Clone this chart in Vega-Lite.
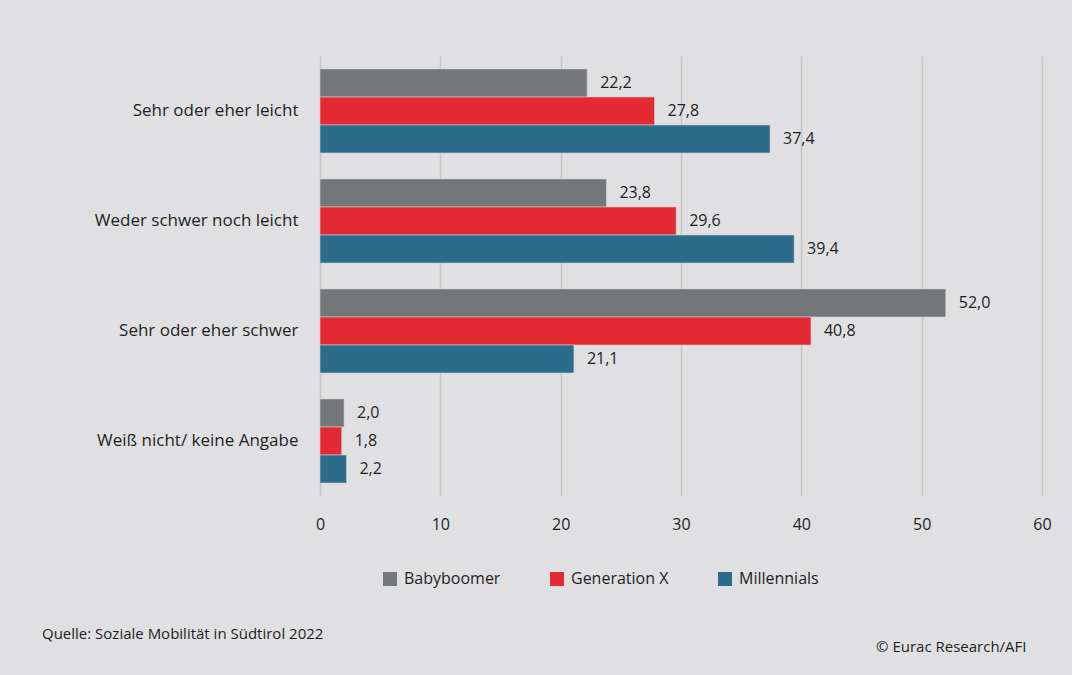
{
  "$schema": "https://vega.github.io/schema/vega-lite/v6.json",
  "width": 722,
  "height": 440,
  "autosize": {"type": "none"},
  "padding": {"left": 320, "top": 56, "right": 30, "bottom": 179},
  "background": "#e0e0e2",
  "config": {
    "locale": {"number": {"decimal": ",", "thousands": ".", "grouping": [3], "currency": ["", " €"]}},
    "view": {"stroke": null},
    "font": "Open Sans"
  },
  "data": {
    "values": [
      {"kategorie": "Sehr oder eher leicht", "generation": "Babyboomer", "wert": 22.2},
      {"kategorie": "Sehr oder eher leicht", "generation": "Generation X", "wert": 27.8},
      {"kategorie": "Sehr oder eher leicht", "generation": "Millennials", "wert": 37.4},
      {"kategorie": "Weder schwer noch leicht", "generation": "Babyboomer", "wert": 23.8},
      {"kategorie": "Weder schwer noch leicht", "generation": "Generation X", "wert": 29.6},
      {"kategorie": "Weder schwer noch leicht", "generation": "Millennials", "wert": 39.4},
      {"kategorie": "Sehr oder eher schwer", "generation": "Babyboomer", "wert": 52.0},
      {"kategorie": "Sehr oder eher schwer", "generation": "Generation X", "wert": 40.8},
      {"kategorie": "Sehr oder eher schwer", "generation": "Millennials", "wert": 21.1},
      {"kategorie": "Weiß nicht/ keine Angabe", "generation": "Babyboomer", "wert": 2.0},
      {"kategorie": "Weiß nicht/ keine Angabe", "generation": "Generation X", "wert": 1.8},
      {"kategorie": "Weiß nicht/ keine Angabe", "generation": "Millennials", "wert": 2.2}
    ]
  },
  "title": {
    "text": "Quelle: Soziale Mobilität in Südtirol 2022",
    "orient": "none",
    "anchor": "start",
    "frame": "group",
    "dx": -278,
    "dy": 571,
    "fontSize": 15,
    "fontWeight": "normal",
    "color": "#1e1e1e",
    "font": "Open Sans"
  },
  "encoding": {
    "y": {
      "field": "kategorie",
      "type": "nominal",
      "sort": ["Sehr oder eher leicht", "Weder schwer noch leicht", "Sehr oder eher schwer", "Weiß nicht/ keine Angabe"],
      "scale": {"paddingInner": 0.236, "paddingOuter": 0.118},
      "axis": {
        "title": "© Eurac Research/AFI",
        "titleAngle": 0,
        "titleX": 706,
        "titleY": 595,
        "titleAlign": "right",
        "titleBaseline": "alphabetic",
        "titleFontSize": 15,
        "titleFontWeight": "normal",
        "titleColor": "#1e1e1e",
        "titleFont": "Open Sans",
        "domain": false,
        "ticks": false,
        "labelPadding": 22,
        "labelLimit": 300,
        "labelFontSize": 17,
        "labelColor": "#1e1e1e",
        "labelFont": "Open Sans"
      }
    },
    "yOffset": {
      "field": "generation",
      "type": "nominal",
      "sort": ["Babyboomer", "Generation X", "Millennials"],
      "scale": {"paddingInner": 0, "paddingOuter": 0}
    },
    "x": {
      "field": "wert",
      "type": "quantitative",
      "scale": {"domain": [0, 60]},
      "axis": {
        "title": null,
        "values": [0, 10, 20, 30, 40, 50, 60],
        "domain": false,
        "ticks": false,
        "grid": true,
        "gridColor": "#c6c6c8",
        "gridWidth": 1.5,
        "labelFlush": false,
        "labelPadding": 20,
        "labelFontSize": 16,
        "labelColor": "#1e1e1e",
        "labelFont": "Open Sans"
      }
    }
  },
  "layer": [
    {
      "mark": {"type": "bar", "stroke": "#d0d0d0", "strokeWidth": 0.6},
      "encoding": {
        "color": {
          "field": "generation",
          "type": "nominal",
          "sort": ["Babyboomer", "Generation X", "Millennials"],
          "scale": {"domain": ["Babyboomer", "Generation X", "Millennials"], "range": ["#74777a", "#e32a32", "#2b6b8b"]},
          "legend": {
            "title": null,
            "orient": "none",
            "direction": "horizontal",
            "legendX": 62,
            "legendY": 515,
            "symbolType": "square",
            "symbolSize": 196,
            "symbolStrokeWidth": 0,
            "labelFontSize": 16,
            "labelColor": "#1e1e1e",
            "labelFont": "Open Sans",
            "labelOffset": 6,
            "columnPadding": 48
          }
        }
      }
    },
    {
      "mark": {"type": "text", "align": "left", "dx": 13, "fontSize": 16, "color": "#1e1e1e", "font": "Open Sans"},
      "encoding": {
        "text": {"field": "wert", "type": "quantitative", "format": ".1f"}
      }
    }
  ]
}
